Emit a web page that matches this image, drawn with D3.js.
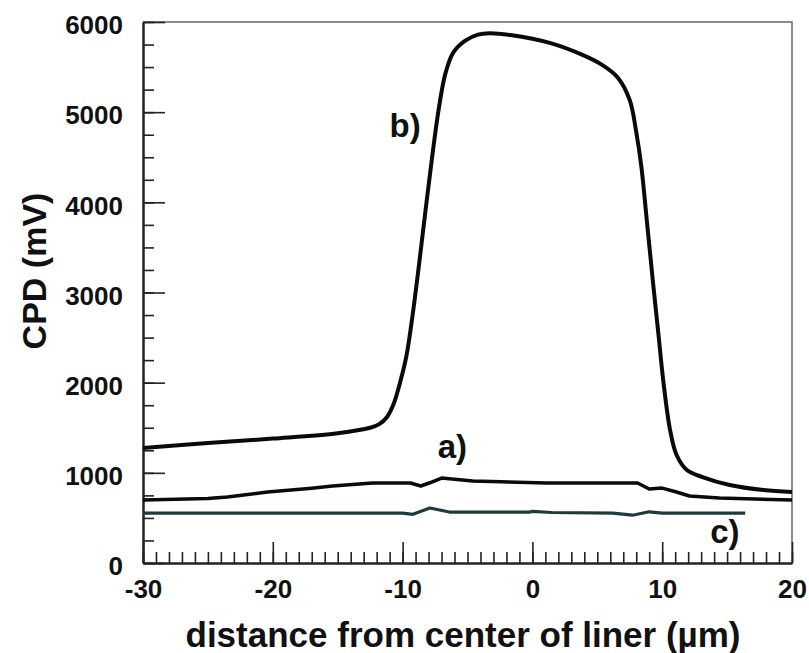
<!DOCTYPE html>
<html>
<head>
<meta charset="utf-8">
<script src="https://cdn.jsdelivr.net/npm/d3@7"></script>
<style>
  body { margin: 0; background: #fff; }
  svg { display: block; }
  text { font-family: Arial, "Liberation Sans", sans-serif; font-weight: bold; fill: #111; }
</style>
</head>
<body>
<svg width="809" height="653"></svg>
<script>
// curve b) - the big plateau
var bX = [-30,-25,-20,-15,-12.5,-11.8,-11.2,-10.7,-10.2,-9.7,-9.2,-8.7,-8.2,-7.7,-7.2,-6.7,-6.1,-5.2,-4.2,-3.3,-1.7,1.4,3.9,5.4,6.6,7.5,8.0,8.4,8.8,9.3,9.7,10.1,10.6,11.1,11.9,13.1,15.2,17.8,20]
var bY = [1275,1330,1380,1440,1500,1540,1620,1760,2000,2300,2780,3350,3950,4530,5050,5430,5660,5790,5860,5876,5855,5765,5632,5521,5380,5133,4780,4390,3820,3100,2550,2000,1480,1200,1031,953,865,809,787]

// curve a)
var aX = [-30,-25,-23.5,-20.4,-17,-15.4,-12.3,-9.4,-8.6,-7.9,-7.0,-4.6,1.1,8.1,9.0,10.0,11.1,12.1,14.4,20]
var aY = [698,715,732,787,830,854,887,887,854,890,942,909,887,887,820,831,787,743,721,698]

// curve c)
var cX = [-30,-10,-9.2,-7.9,-6.4,-0.2,0,1.5,6.2,7.7,9.0,10,16.4]
var cY = [554,554,540,610,565,565,572,560,554,530,568,554,554]

var xMajor = [-30,-20,-10,0,10,20]
var yMajor = [0,1000,2000,3000,4000,5000,6000]

var labels = [['b)',-11,4720],['a)',-7.3,1164],['c)',13.7,222]]

var svg = d3.select('svg')
var x = d3.scaleLinear().domain([-30,20]).range([143,792])
var y = d3.scaleLinear().domain([0,6000]).range([563,22])

function pairs(xs, ys) {
  return xs.map(function(d, i) { return [d, ys[i]] })
}
function plain(d) { return String(d) }

// frame (top/right thinner grey)
svg.append('path')
  .attr('d', 'M' + x(-30) + ',' + y(6000) + 'H' + x(20) + 'V' + y(0))
  .attr('fill', 'none').attr('stroke', '#666').attr('stroke-width', 1.5)

// minor ticks
svg.append('g')
  .attr('transform', 'translate(0,' + y(0) + ')')
  .call(d3.axisBottom(x).tickValues(d3.range(-30, 21, 1)).tickSize(-11).tickSizeOuter(0).tickFormat(''))
svg.append('g')
  .attr('transform', 'translate(' + x(-30) + ',0)')
  .call(d3.axisLeft(y).tickValues(d3.range(0, 6001, 250)).tickSize(-11).tickSizeOuter(0).tickFormat(''))

// major ticks + labels
var xa = svg.append('g')
  .attr('transform', 'translate(0,' + y(0) + ')')
  .call(d3.axisBottom(x).tickValues(xMajor).tickSize(-21).tickSizeOuter(0).tickPadding(17).tickFormat(plain))
var ya = svg.append('g')
  .attr('transform', 'translate(' + x(-30) + ',0)')
  .call(d3.axisLeft(y).tickValues(yMajor).tickSize(-22).tickSizeOuter(0).tickPadding(20).tickFormat(plain))

svg.selectAll('.domain').attr('stroke', '#222').attr('stroke-width', 2)
svg.selectAll('.tick line').attr('stroke', '#222').attr('stroke-width', 1.6)
svg.selectAll('.tick text').style('font-size', '26px').attr('fill', '#111')
ya.selectAll('.tick text').attr('dy', '0.45em')

// curves
var line = d3.line().x(function(d) { return x(d[0]) }).y(function(d) { return y(d[1]) })

svg.append('path')
  .datum(pairs(bX, bY))
  .attr('d', line.curve(d3.curveCatmullRom.alpha(0.5)))
  .attr('fill', 'none').attr('stroke', '#0a0a0a').attr('stroke-width', 4)
  .attr('stroke-linejoin', 'round')

svg.append('path')
  .datum(pairs(aX, aY))
  .attr('d', line.curve(d3.curveLinear))
  .attr('fill', 'none').attr('stroke', '#0a0a0a').attr('stroke-width', 3.5)
  .attr('stroke-linejoin', 'round')

svg.append('path')
  .datum(pairs(cX, cY))
  .attr('d', line.curve(d3.curveLinear))
  .attr('fill', 'none').attr('stroke', '#1d3a3c').attr('stroke-width', 3.2)
  .attr('stroke-linejoin', 'round')

// curve labels
svg.selectAll('.lbl')
  .data(labels)
  .enter().append('text')
    .attr('class', 'lbl')
    .attr('x', function(d) { return x(d[1]) })
    .attr('y', function(d) { return y(d[2]) })
    .style('font-size', '33px')
    .text(function(d) { return d[0] })

// axis titles
svg.append('text')
  .attr('x', 463).attr('y', 647)
  .attr('text-anchor', 'middle')
  .style('font-size', '35px')
  .text('distance from center of liner (\u00b5m)')

svg.append('text')
  .attr('transform', 'translate(46,' + 271 + ') rotate(-90)')
  .attr('text-anchor', 'middle')
  .style('font-size', '34px')
  .text('CPD (mV)')
</script>
</body>
</html>
